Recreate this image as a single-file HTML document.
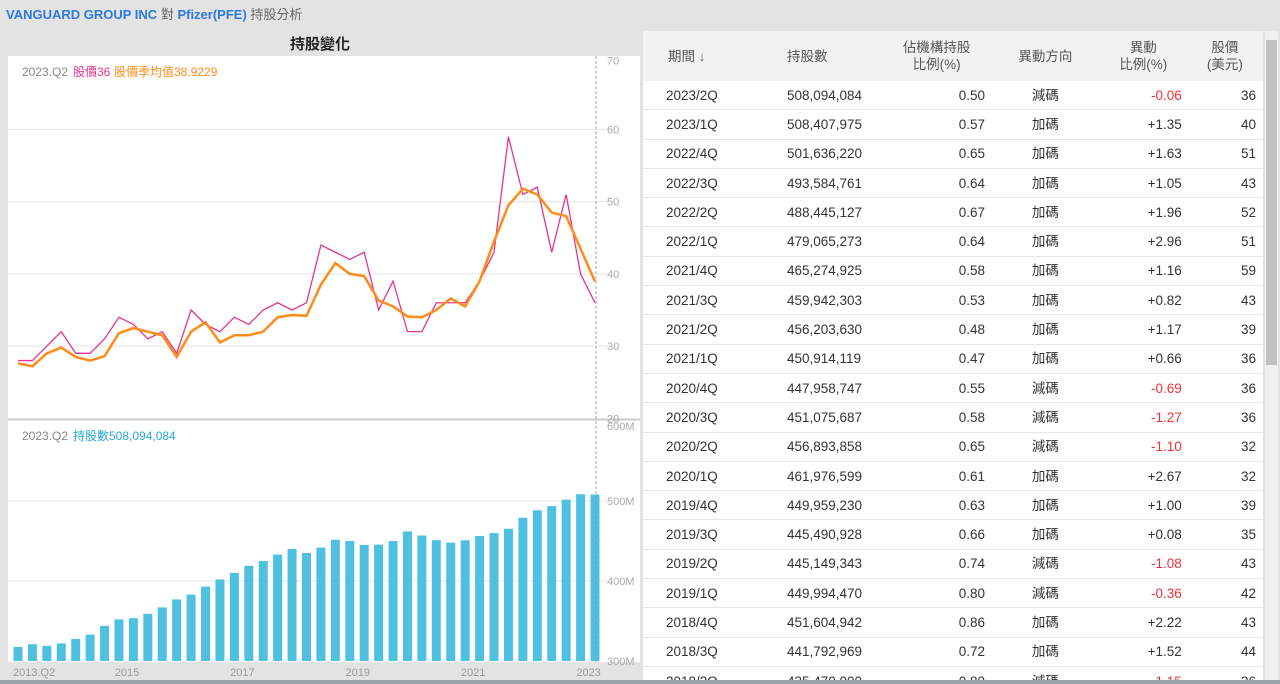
<!DOCTYPE html>
<html><head><meta charset="utf-8"><style>
html,body{margin:0;width:1280px;height:684px;overflow:hidden}
body{background:#e3e3e3;font-family:"Liberation Sans","Noto Sans CJK TC",sans-serif;position:relative;color:#333}
.abs{position:absolute}
#title{left:6px;top:4px;font-size:13px;color:#666}
#title b{color:#2a7ae2}
#ctitle{left:0;width:640px;top:33px;text-align:center;font-size:15px;font-weight:bold;color:#222}
#tbl{left:643px;top:31px;width:620px;height:649px;background:#fff;overflow:hidden}
table{border-collapse:collapse;width:620px;font-size:13.5px;table-layout:fixed}
th{background:#f2f2f2;font-weight:normal;color:#555;height:50px;padding:0;font-size:13.5px;line-height:17px}
td{height:27.3px;padding:1px 0 0 0;line-height:16px;border-bottom:1px solid #e8e8e8;color:#333;white-space:nowrap}
.neg{color:#f0303a}
#sb{left:1265px;top:31px;width:13px;height:649px;background:#f0f0f0}
#thumb{left:1266px;top:40px;width:11px;height:325px;background:#c1c1c1}
#bottom{left:0;top:680px;width:1280px;height:4px;background:#9aa3a8}
</style></head><body>
<div id="title" class="abs"><b>VANGUARD GROUP INC</b> 對 <b>Pfizer(PFE)</b> 持股分析</div>
<div id="ctitle" class="abs">持股變化</div>
<svg class="abs" style="left:0;top:0" width="642" height="680">
<rect x="8" y="56" width="632" height="362" fill="#fff"/>
<rect x="8" y="421" width="632" height="241" fill="#fff"/>
<line x1="8" y1="419.5" x2="640" y2="419.5" stroke="#ccc"/>
<g id="grid"></g><g id="bars"></g><g id="lines"></g><g id="axis"></g>
<line x1="596" y1="56" x2="596" y2="662" stroke="#8890aa" stroke-dasharray="3,2" stroke-width="0.8"/>
<text x="22" y="76" font-size="12" fill="#888">2023.Q2</text>
<text x="73" y="76" font-size="12" fill="#e4358f">股價36</text>
<text x="114" y="76" font-size="12" fill="#ff8c1a">股價季均值38.9229</text>
<text x="22" y="440" font-size="12" fill="#888">2023.Q2</text>
<text x="73" y="440" font-size="12" fill="#29a9d6">持股數508,094,084</text>
</svg>
<div id="tbl" class="abs"><table><thead><tr>
<th style="text-align:left;padding-left:25px;width:100px">期間 ↓</th>
<th style="text-align:left;padding-left:8px;width:87px">持股數</th>
<th style="width:100px">佔機構持股<br>比例(%)</th>
<th style="width:100px">異動方向</th>
<th style="width:80px">異動<br>比例(%)</th>
<th style="width:70px">股價<br>(美元)</th></tr></thead><tbody id="tb"></tbody></table></div>
<div id="sb" class="abs"></div>
<div id="thumb" class="abs"></div>
<div id="bottom" class="abs"></div>
<script>
const price=[28,28,30,32,29,29,31,34,33,31,32,29,35,33,32,34,33,35,36,35,36,44,43,42,43,35,39,32,32,36,36,36,39,43,59,51,52,43,51,40,36];
const avgPrice=[27.6,27.2,29,29.8,28.5,28,28.6,31.8,32.5,32,31.5,28.5,32,33.3,30.5,31.5,31.5,32,34,34.3,34.2,38.5,41.5,40,39.7,36.3,35.5,34.1,34,35,36.6,35.5,39,44.5,49.5,51.8,51,48.5,48,43.5,38.9229];
const shares=[317.5,321,319,322,327.5,333,344,352,353.5,359,367,377,383,393,402,410,419,425,433,440,435,441.79,451.6,449.99,445.15,445.49,449.96,461.98,456.89,451.08,447.96,450.91,456.2,459.94,465.27,479.07,488.45,493.58,501.64,508.41,508.09];
const priceTicks=[20,30,40,50,60,70];
const shareTicks=[300,400,500,600];
const xLabels=[[0,"2013.Q2"],[7,"2015"],[15,"2017"],[23,"2019"],[31,"2021"],[39,"2023"]];
const rows=[
["2023/2Q","508,094,084","0.50","減碼","-0.06","36"],["2023/1Q","508,407,975","0.57","加碼","+1.35","40"],["2022/4Q","501,636,220","0.65","加碼","+1.63","51"],["2022/3Q","493,584,761","0.64","加碼","+1.05","43"],["2022/2Q","488,445,127","0.67","加碼","+1.96","52"],["2022/1Q","479,065,273","0.64","加碼","+2.96","51"],["2021/4Q","465,274,925","0.58","加碼","+1.16","59"],["2021/3Q","459,942,303","0.53","加碼","+0.82","43"],["2021/2Q","456,203,630","0.48","加碼","+1.17","39"],["2021/1Q","450,914,119","0.47","加碼","+0.66","36"],["2020/4Q","447,958,747","0.55","減碼","-0.69","36"],["2020/3Q","451,075,687","0.58","減碼","-1.27","36"],["2020/2Q","456,893,858","0.65","減碼","-1.10","32"],["2020/1Q","461,976,599","0.61","加碼","+2.67","32"],["2019/4Q","449,959,230","0.63","加碼","+1.00","39"],["2019/3Q","445,490,928","0.66","加碼","+0.08","35"],["2019/2Q","445,149,343","0.74","減碼","-1.08","43"],["2019/1Q","449,994,470","0.80","減碼","-0.36","42"],["2018/4Q","451,604,942","0.86","加碼","+2.22","43"],["2018/3Q","441,792,969","0.72","加碼","+1.52","44"],["2018/2Q","435,470,000","0.80","減碼","-1.15","36"]];
const NS="http://www.w3.org/2000/svg";
const n=price.length;
const x=i=>18+i*(577/(n-1));
const yP=v=>418.3-(v-20)*7.22;
const yS=v=>661-(v-300)*0.8;
function mk(t,a,p){const e=document.createElementNS(NS,t);for(const k in a)e.setAttribute(k,a[k]);document.getElementById(p).appendChild(e);return e;}
priceTicks.forEach(v=>{
 if(v>20&&v<70){const g=mk('line',{x1:8,x2:608,y1:yP(v),y2:yP(v),stroke:'#e4e4e4'},'grid');
 
 }
 const t=mk('text',{x:607,y:yP(v)+(v==70?7:4),'font-size':11,fill:'#aaa'},'axis');t.textContent=v;
 
 
});
shareTicks.forEach(v=>{
 if(v>300&&v<600){const g=mk('line',{x1:8,x2:608,y1:yS(v),y2:yS(v),stroke:'#e4e4e4'},'grid');
 
 }
 const t=mk('text',{x:607,y:yS(v)+(v==600?9:4),'font-size':11,fill:'#aaa'},'axis');t.textContent=v+'M';
 
 
});
shares.forEach((v,i)=>{
 const b=mk('rect',{x:x(i)-4.5,y:yS(v),width:9,height:661-yS(v),fill:'#4fc1e0'},'bars');
 
 
});
const pl=mk('polyline',{points:price.map((v,i)=>x(i)+','+yP(v)).join(' '),fill:'none',stroke:'#e4358f','stroke-width':1.3},'lines');


const al=mk('polyline',{points:avgPrice.map((v,i)=>x(i)+','+yP(v)).join(' '),fill:'none',stroke:'#ff8c1a','stroke-width':2.5},'lines');


xLabels.forEach(([i,s])=>{
 const t=mk('text',{x:i==0?13:x(i)+8,y:676,'font-size':11,fill:'#999','text-anchor':i==0?'start':'middle'},'axis');t.textContent=s;
 
 
});
const tb=document.getElementById('tb');
rows.forEach(r=>{
 const tr=document.createElement('tr');
 
 
 const al=['left','left','right','center','right','right'];
 const pad=['padding-left:23px','padding-left:8px','padding-right:6px','','padding-right:5px','padding-right:7px'];
 r.forEach((c,j)=>{const td=document.createElement('td');td.textContent=c;td.style.cssText='text-align:'+al[j]+';'+pad[j];
  if(j==4&&c[0]=='-')td.className='neg';tr.appendChild(td);});
 tb.appendChild(tr);
});
</script>
</body></html>
